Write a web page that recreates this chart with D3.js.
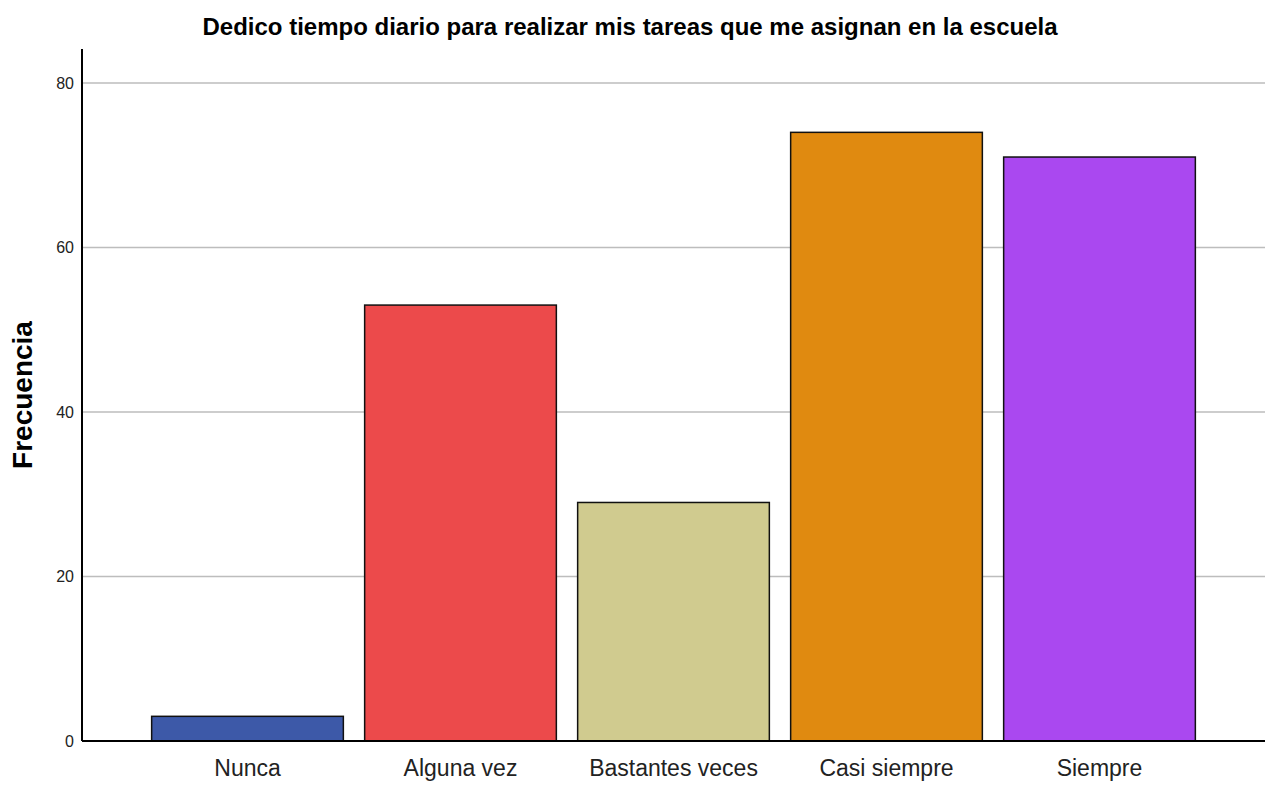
<!DOCTYPE html>
<html>
<head>
<meta charset="utf-8">
<script src="https://cdn.jsdelivr.net/npm/d3@7"></script>
<style>
  body { margin: 0; background: #fff; }
  text { font-family: "Liberation Sans", Arial, sans-serif; }
</style>
</head>
<body>
<div id="chart"></div>
<script>
// data
const categories = ["Nunca", "Alguna vez", "Bastantes veces", "Casi siempre", "Siempre"];
const values = [3, 53, 29, 74, 71];
const colors = ["#3D59A8", "#EC4A4B", "#D0CB8F", "#E08A10", "#AA48F0"];
const yTicks = [0, 20, 40, 60, 80];

const W = 1271, H = 785;
const margin = {top: 49, right: 6, bottom: 44, left: 82};

const svg = d3.select("#chart")
  .append("svg")
    .attr("width", W)
    .attr("height", H);

// scales
const x = d3.scaleBand()
  .domain(categories)
  .range([141, 1206])
  .paddingInner(0.1)
  .paddingOuter(0.05);

const y = d3.scaleLinear()
  .domain([0, 80])
  .range([741, 83]);

// gridlines
svg.append("g")
  .selectAll("line")
  .data(yTicks.filter(d => d > 0))
  .join("line")
    .attr("x1", margin.left)
    .attr("x2", W - margin.right)
    .attr("y1", d => y(d))
    .attr("y2", d => y(d))
    .style("stroke", "#bdbdbd")
    .style("stroke-width", 1.5);

// y axis
const yAxis = svg.append("g")
  .attr("transform", `translate(${margin.left},0)`)
  .call(d3.axisLeft(y).tickValues(yTicks).tickSize(0).tickPadding(8));
yAxis.select(".domain").remove();
yAxis.selectAll("text")
  .style("font-size", "16px")
  .style("fill", "#222")
  .style("font-family", "'Liberation Sans', Arial, sans-serif");

// bars
svg.append("g")
  .selectAll("rect")
  .data(values)
  .join("rect")
    .attr("x", (d, i) => x(categories[i]))
    .attr("y", d => y(d))
    .attr("width", x.bandwidth())
    .attr("height", d => y(0) - y(d))
    .style("fill", (d, i) => colors[i])
    .style("stroke", "#111")
    .style("stroke-width", 1.5);

// axis lines
svg.append("line")
  .attr("x1", margin.left).attr("x2", margin.left)
  .attr("y1", margin.top).attr("y2", y(0))
  .style("stroke", "#000").style("stroke-width", 2);
svg.append("line")
  .attr("x1", margin.left).attr("x2", W - margin.right)
  .attr("y1", y(0)).attr("y2", y(0))
  .style("stroke", "#000").style("stroke-width", 2);

// x labels
const xAxis = svg.append("g")
  .attr("transform", `translate(0,${y(0)})`)
  .call(d3.axisBottom(x).tickSize(0).tickPadding(19));
xAxis.select(".domain").remove();
xAxis.selectAll("text")
  .style("font-size", "23px")
  .style("fill", "#222")
  .style("font-family", "'Liberation Sans', Arial, sans-serif")
  .attr("dy", "0.71em");

// title
svg.append("text")
  .attr("x", 630)
  .attr("y", 35)
  .attr("text-anchor", "middle")
  .style("font-size", "24px")
  .style("font-weight", "bold")
  .text("Dedico tiempo diario para realizar mis tareas que me asignan en la escuela");

// y label
svg.append("text")
  .attr("transform", "translate(32,395) rotate(-90)")
  .attr("text-anchor", "middle")
  .style("font-size", "28px")
  .style("font-weight", "bold")
  .text("Frecuencia");
</script>
</body>
</html>
